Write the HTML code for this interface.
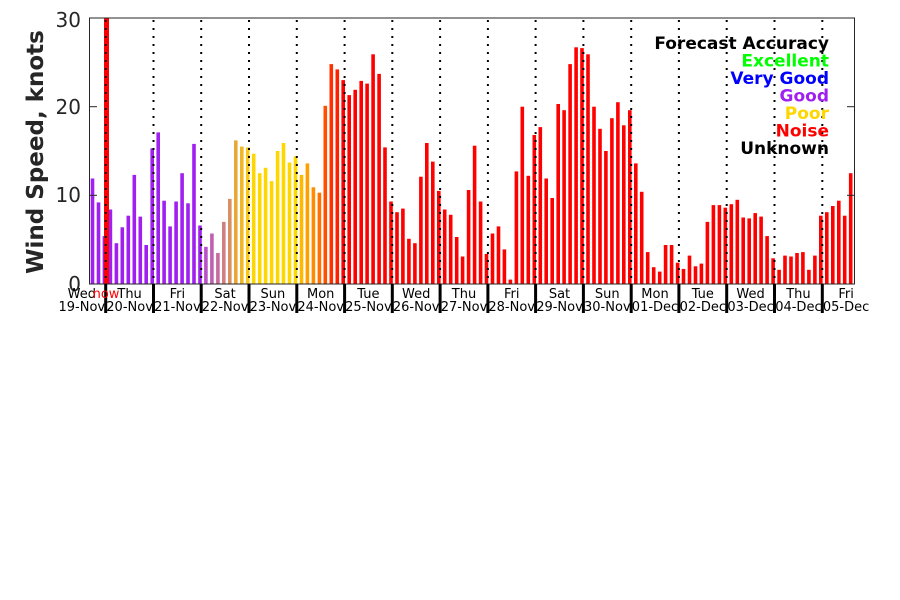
<!DOCTYPE html>
<html><head><meta charset="utf-8"><style>
html,body{margin:0;padding:0;background:#fff;}
svg{display:block;}
text{font-family:"DejaVu Sans","Liberation Sans",sans-serif;}
</style></head><body>
<svg width="900" height="600" viewBox="0 0 900 600" xmlns="http://www.w3.org/2000/svg">
<rect width="900" height="600" fill="#fff"/>
<g fill="#a020f0">
<rect x="90.7" y="178.5" width="3.6" height="105.5"/>
<rect x="96.7" y="202.4" width="3.6" height="81.6"/>
<rect x="102.6" y="236.1" width="3.6" height="47.9"/>
<rect x="108.6" y="209.5" width="3.6" height="74.5"/>
<rect x="114.6" y="243.2" width="3.6" height="40.8"/>
<rect x="120.5" y="227.3" width="3.6" height="56.7"/>
<rect x="126.5" y="215.7" width="3.6" height="68.3"/>
<rect x="132.5" y="174.9" width="3.6" height="109.1"/>
<rect x="138.5" y="216.6" width="3.6" height="67.4"/>
<rect x="144.4" y="245" width="3.6" height="39"/>
<rect x="150.4" y="148.3" width="3.6" height="135.7"/>
<rect x="156.4" y="132.4" width="3.6" height="151.6"/>
<rect x="162.3" y="200.7" width="3.6" height="83.3"/>
<rect x="168.3" y="226.4" width="3.6" height="57.6"/>
<rect x="174.3" y="201.5" width="3.6" height="82.5"/>
<rect x="180.3" y="173.2" width="3.6" height="110.8"/>
<rect x="186.2" y="203.3" width="3.6" height="80.7"/>
<rect x="192.2" y="143.9" width="3.6" height="140.1"/>
<rect x="198.2" y="225.5" width="3.6" height="58.5"/>
</g>
<rect x="204.1" y="246.8" width="3.6" height="37.2" fill="#b850c8"/>
<rect x="210.1" y="233.5" width="3.6" height="50.5" fill="#c060b0"/>
<rect x="216.1" y="253" width="3.6" height="31" fill="#c86aa0"/>
<rect x="222.0" y="221.9" width="3.6" height="62.1" fill="#d08080"/>
<rect x="228.0" y="198.9" width="3.6" height="85.1" fill="#d89060"/>
<rect x="234.0" y="140.4" width="3.6" height="143.6" fill="#e8a838"/>
<rect x="240.0" y="146.6" width="3.6" height="137.4" fill="#f0b828"/>
<rect x="245.9" y="147.4" width="3.6" height="136.6" fill="#f8c818"/>
<g fill="#ffd700">
<rect x="251.9" y="153.7" width="3.6" height="130.3"/>
<rect x="257.9" y="173.2" width="3.6" height="110.8"/>
<rect x="263.8" y="167.8" width="3.6" height="116.2"/>
<rect x="269.8" y="181.1" width="3.6" height="102.9"/>
<rect x="275.8" y="151" width="3.6" height="133"/>
<rect x="281.7" y="143" width="3.6" height="141"/>
<rect x="287.7" y="162.5" width="3.6" height="121.5"/>
<rect x="293.7" y="156.3" width="3.6" height="127.7"/>
</g>
<rect x="299.7" y="174.9" width="3.6" height="109.1" fill="#ffb800"/>
<rect x="305.6" y="163.4" width="3.6" height="120.6" fill="#ffa000"/>
<rect x="311.6" y="187.3" width="3.6" height="96.7" fill="#ff8c00"/>
<rect x="317.6" y="192.7" width="3.6" height="91.3" fill="#ff7000"/>
<rect x="323.5" y="105.8" width="3.6" height="178.2" fill="#ff5000"/>
<rect x="329.5" y="64.1" width="3.6" height="219.9" fill="#ff3000"/>
<rect x="335.5" y="69.4" width="3.6" height="214.6" fill="#ff2000"/>
<g fill="#ff0000">
<rect x="341.4" y="80.1" width="3.6" height="203.9"/>
<rect x="347.4" y="95.1" width="3.6" height="188.9"/>
<rect x="353.4" y="89.8" width="3.6" height="194.2"/>
<rect x="359.4" y="80.9" width="3.6" height="203.1"/>
<rect x="365.3" y="83.6" width="3.6" height="200.4"/>
<rect x="371.3" y="54.3" width="3.6" height="229.7"/>
<rect x="377.3" y="73.9" width="3.6" height="210.1"/>
<rect x="383.2" y="147.4" width="3.6" height="136.6"/>
<rect x="389.2" y="201.5" width="3.6" height="82.5"/>
<rect x="395.2" y="212.2" width="3.6" height="71.8"/>
<rect x="401.1" y="208.6" width="3.6" height="75.4"/>
<rect x="407.1" y="238.8" width="3.6" height="45.2"/>
<rect x="413.1" y="243.2" width="3.6" height="40.8"/>
<rect x="419.1" y="176.7" width="3.6" height="107.3"/>
<rect x="425.0" y="143" width="3.6" height="141"/>
<rect x="431.0" y="161.6" width="3.6" height="122.4"/>
<rect x="437.0" y="190.9" width="3.6" height="93.1"/>
<rect x="442.9" y="209.5" width="3.6" height="74.5"/>
<rect x="448.9" y="214.8" width="3.6" height="69.2"/>
<rect x="454.9" y="237" width="3.6" height="47"/>
<rect x="460.8" y="256.5" width="3.6" height="27.5"/>
<rect x="466.8" y="190" width="3.6" height="94"/>
<rect x="472.8" y="145.7" width="3.6" height="138.3"/>
<rect x="478.8" y="201.5" width="3.6" height="82.5"/>
<rect x="484.7" y="253.9" width="3.6" height="30.1"/>
<rect x="490.7" y="233.5" width="3.6" height="50.5"/>
<rect x="496.7" y="226.4" width="3.6" height="57.6"/>
<rect x="502.6" y="249.4" width="3.6" height="34.6"/>
<rect x="508.6" y="279.6" width="3.6" height="4.4"/>
<rect x="514.6" y="171.4" width="3.6" height="112.6"/>
<rect x="520.5" y="106.7" width="3.6" height="177.3"/>
<rect x="526.5" y="175.8" width="3.6" height="108.2"/>
<rect x="532.5" y="135" width="3.6" height="149"/>
<rect x="538.5" y="127.1" width="3.6" height="156.9"/>
<rect x="544.4" y="178.5" width="3.6" height="105.5"/>
<rect x="550.4" y="198" width="3.6" height="86"/>
<rect x="556.4" y="104" width="3.6" height="180"/>
<rect x="562.3" y="110.2" width="3.6" height="173.8"/>
<rect x="568.3" y="64.1" width="3.6" height="219.9"/>
<rect x="574.3" y="47.3" width="3.6" height="236.7"/>
<rect x="580.2" y="48.1" width="3.6" height="235.9"/>
<rect x="586.2" y="54.3" width="3.6" height="229.7"/>
<rect x="592.2" y="106.7" width="3.6" height="177.3"/>
<rect x="598.2" y="128.8" width="3.6" height="155.2"/>
<rect x="604.1" y="151" width="3.6" height="133"/>
<rect x="610.1" y="118.2" width="3.6" height="165.8"/>
<rect x="616.1" y="102.2" width="3.6" height="181.8"/>
<rect x="622.0" y="125.3" width="3.6" height="158.7"/>
<rect x="628.0" y="110.2" width="3.6" height="173.8"/>
<rect x="634.0" y="163.4" width="3.6" height="120.6"/>
<rect x="639.9" y="191.8" width="3.6" height="92.2"/>
<rect x="645.9" y="252.1" width="3.6" height="31.9"/>
<rect x="651.9" y="267.2" width="3.6" height="16.8"/>
<rect x="657.9" y="271.6" width="3.6" height="12.4"/>
<rect x="663.8" y="245" width="3.6" height="39"/>
<rect x="669.8" y="245" width="3.6" height="39"/>
<rect x="675.8" y="262.7" width="3.6" height="21.3"/>
<rect x="681.7" y="268.9" width="3.6" height="15.1"/>
<rect x="687.7" y="255.6" width="3.6" height="28.4"/>
<rect x="693.7" y="266.3" width="3.6" height="17.7"/>
<rect x="699.6" y="263.6" width="3.6" height="20.4"/>
<rect x="705.6" y="221.9" width="3.6" height="62.1"/>
<rect x="711.6" y="205.1" width="3.6" height="78.9"/>
<rect x="717.6" y="205.1" width="3.6" height="78.9"/>
<rect x="723.5" y="207.7" width="3.6" height="76.3"/>
<rect x="729.5" y="204.2" width="3.6" height="79.8"/>
<rect x="735.5" y="199.8" width="3.6" height="84.2"/>
<rect x="741.4" y="217.5" width="3.6" height="66.5"/>
<rect x="747.4" y="218.4" width="3.6" height="65.6"/>
<rect x="753.4" y="213.1" width="3.6" height="70.9"/>
<rect x="759.3" y="216.6" width="3.6" height="67.4"/>
<rect x="765.3" y="236.1" width="3.6" height="47.9"/>
<rect x="771.3" y="258.3" width="3.6" height="25.7"/>
<rect x="777.3" y="269.8" width="3.6" height="14.2"/>
<rect x="783.2" y="255.6" width="3.6" height="28.4"/>
<rect x="789.2" y="256.5" width="3.6" height="27.5"/>
<rect x="795.2" y="253" width="3.6" height="31"/>
<rect x="801.1" y="252.1" width="3.6" height="31.9"/>
<rect x="807.1" y="269.8" width="3.6" height="14.2"/>
<rect x="813.1" y="255.6" width="3.6" height="28.4"/>
<rect x="819.0" y="215.7" width="3.6" height="68.3"/>
<rect x="825.0" y="212.2" width="3.6" height="71.8"/>
<rect x="831.0" y="206" width="3.6" height="78"/>
<rect x="837.0" y="200.7" width="3.6" height="83.3"/>
<rect x="842.9" y="215.7" width="3.6" height="68.3"/>
<rect x="848.9" y="173.2" width="3.6" height="110.8"/>
</g>
<rect x="104" y="18" width="5" height="266" fill="#ff0000"/>
<g stroke="#000" stroke-width="2" stroke-dasharray="2 6">
<line x1="105.7" y1="20" x2="105.7" y2="284"/>
<line x1="153.5" y1="20" x2="153.5" y2="284"/>
<line x1="201.2" y1="20" x2="201.2" y2="284"/>
<line x1="249.0" y1="20" x2="249.0" y2="284"/>
<line x1="296.8" y1="20" x2="296.8" y2="284"/>
<line x1="344.6" y1="20" x2="344.6" y2="284"/>
<line x1="392.3" y1="20" x2="392.3" y2="284"/>
<line x1="440.1" y1="20" x2="440.1" y2="284"/>
<line x1="487.9" y1="20" x2="487.9" y2="284"/>
<line x1="535.6" y1="20" x2="535.6" y2="284"/>
<line x1="583.4" y1="20" x2="583.4" y2="284"/>
<line x1="631.2" y1="20" x2="631.2" y2="284"/>
<line x1="678.9" y1="20" x2="678.9" y2="284"/>
<line x1="726.7" y1="20" x2="726.7" y2="284"/>
<line x1="774.5" y1="20" x2="774.5" y2="284"/>
<line x1="822.3" y1="20" x2="822.3" y2="284"/>
</g>
<rect x="89.5" y="18" width="765" height="266" fill="none" stroke="#262626" stroke-width="1"/>
<g stroke="#262626" stroke-width="1">
<line x1="89.5" y1="106.7" x2="97" y2="106.7"/>
<line x1="89.5" y1="195.3" x2="97" y2="195.3"/>
<line x1="854.5" y1="106.7" x2="847" y2="106.7"/>
<line x1="854.5" y1="195.3" x2="847" y2="195.3"/>
</g>
<g fill="#000">
<rect x="104.2" y="284" width="3" height="29"/>
<rect x="152" y="284" width="3" height="29"/>
<rect x="199.7" y="284" width="3" height="29"/>
<rect x="247.5" y="284" width="3" height="29"/>
<rect x="295.3" y="284" width="3" height="29"/>
<rect x="343.1" y="284" width="3" height="29"/>
<rect x="390.8" y="284" width="3" height="29"/>
<rect x="438.6" y="284" width="3" height="29"/>
<rect x="486.4" y="284" width="3" height="29"/>
<rect x="534.1" y="284" width="3" height="29"/>
<rect x="581.9" y="284" width="3" height="29"/>
<rect x="629.7" y="284" width="3" height="29"/>
<rect x="677.4" y="284" width="3" height="29"/>
<rect x="725.2" y="284" width="3" height="29"/>
<rect x="773" y="284" width="3" height="29"/>
<rect x="820.8" y="284" width="3" height="29"/>
</g>
<g font-size="20" fill="#262626" text-anchor="end">
<text x="81" y="27">30</text>
<text x="81" y="114">20</text>
<text x="81" y="202">10</text>
<text x="81" y="291">0</text>
</g>
<text transform="translate(43,152) rotate(-90)" text-anchor="middle" font-size="23" font-weight="bold" fill="#262626">Wind Speed, knots</text>
<g font-size="13" fill="#000" text-anchor="middle">
<text x="81.8" y="298">Wed</text>
<text x="129.6" y="298">Thu</text>
<text x="177.4" y="298">Fri</text>
<text x="225.1" y="298">Sat</text>
<text x="272.9" y="298">Sun</text>
<text x="320.7" y="298">Mon</text>
<text x="368.4" y="298">Tue</text>
<text x="416.2" y="298">Wed</text>
<text x="464.0" y="298">Thu</text>
<text x="511.7" y="298">Fri</text>
<text x="559.5" y="298">Sat</text>
<text x="607.3" y="298">Sun</text>
<text x="655.0" y="298">Mon</text>
<text x="702.8" y="298">Tue</text>
<text x="750.6" y="298">Wed</text>
<text x="798.4" y="298">Thu</text>
<text x="846.1" y="298">Fri</text>
<text x="81.8" y="311">19-Nov</text>
<text x="129.6" y="311">20-Nov</text>
<text x="177.4" y="311">21-Nov</text>
<text x="225.1" y="311">22-Nov</text>
<text x="272.9" y="311">23-Nov</text>
<text x="320.7" y="311">24-Nov</text>
<text x="368.4" y="311">25-Nov</text>
<text x="416.2" y="311">26-Nov</text>
<text x="464.0" y="311">27-Nov</text>
<text x="511.7" y="311">28-Nov</text>
<text x="559.5" y="311">29-Nov</text>
<text x="607.3" y="311">30-Nov</text>
<text x="655.0" y="311">01-Dec</text>
<text x="702.8" y="311">02-Dec</text>
<text x="750.6" y="311">03-Dec</text>
<text x="798.4" y="311">04-Dec</text>
<text x="846.1" y="311">05-Dec</text>
</g>
<text x="106" y="298" font-size="13" fill="#ff0000" text-anchor="middle">now</text>
<g font-size="17" font-weight="bold" text-anchor="end">
<text x="829" y="49" fill="#000">Forecast Accuracy</text>
<text x="829" y="66.5" fill="#00ff00">Excellent</text>
<text x="829" y="84" fill="#0000ff">Very Good</text>
<text x="829" y="101.5" fill="#a020f0">Good</text>
<text x="829" y="119" fill="#ffd700">Poor</text>
<text x="829" y="136.5" fill="#ff0000">Noise</text>
<text x="829" y="154" fill="#000">Unknown</text>
</g>
</svg>
</body></html>
